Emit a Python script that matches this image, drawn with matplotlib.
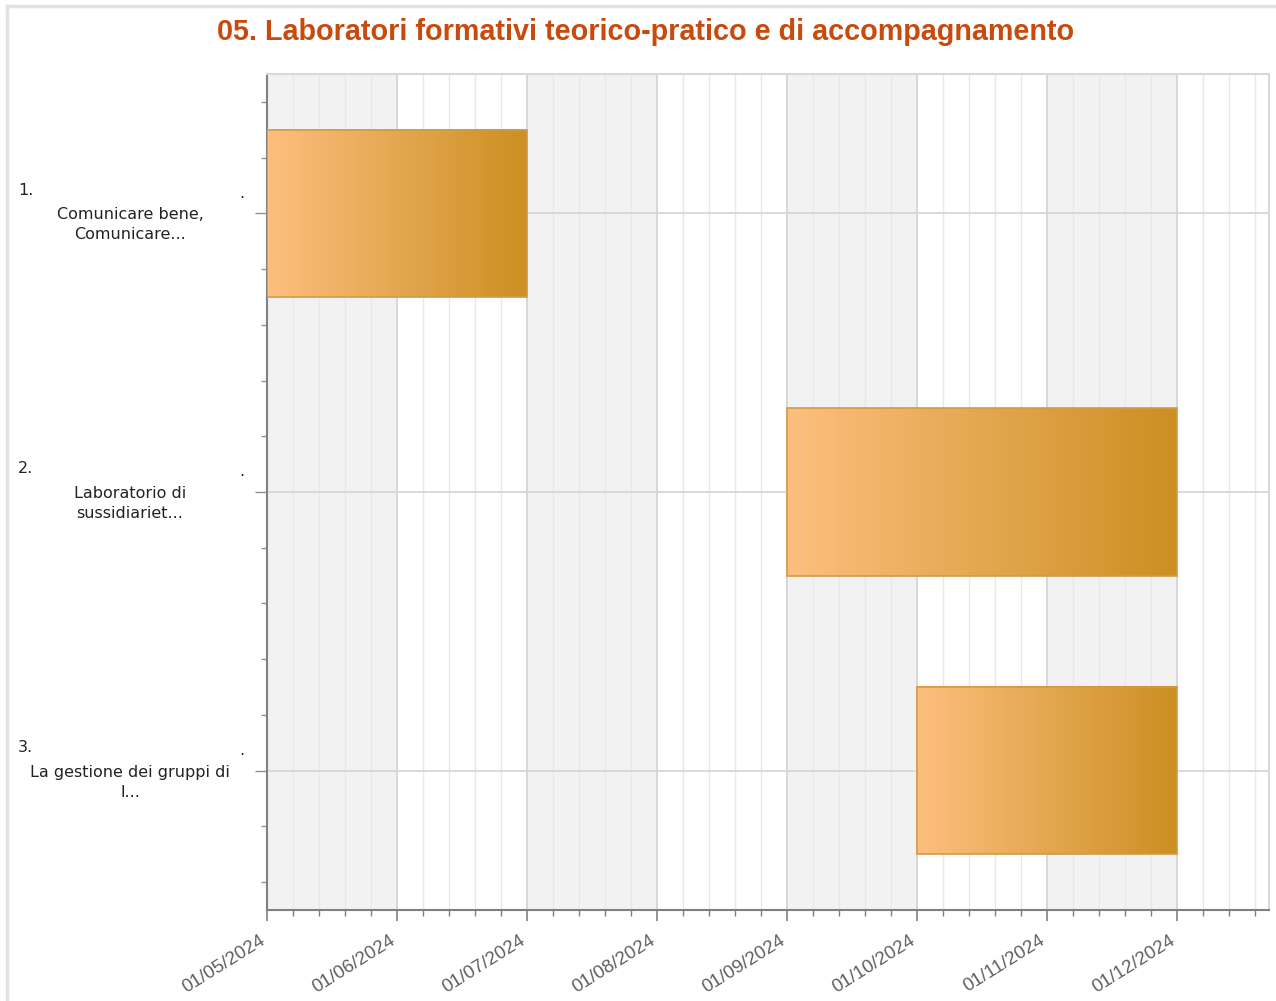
import matplotlib
matplotlib.use("Agg")
import matplotlib.pyplot as plt
import matplotlib.transforms as mtransforms
from matplotlib.patches import Rectangle
import numpy as np
import datetime as dt
import calendar

# ---------------- data ----------------
title = "05. Laboratori formativi teorico-pratico e di accompagnamento"
task_numbers = ["1.", "2.", "3."]
task_labels = ["Comunicare bene,\nComunicare...",
               "Laboratorio di\nsussidiariet...",
               "La gestione dei gruppi di\nl..."]
task_starts = ["2024-05-01", "2024-09-01", "2024-10-01"]
task_ends = ["2024-07-01", "2024-12-01", "2024-12-01"]
month_ticks = ["2024-05-01", "2024-06-01", "2024-07-01", "2024-08-01",
               "2024-09-01", "2024-10-01", "2024-11-01", "2024-12-01"]
x_min = "2024-05-01"
x_max = "2024-12-23"

# ---------------- figure ----------------
W, H = 1276, 1001
fig = plt.figure(figsize=(W / 100, H / 100), dpi=100)
fig.patch.set_facecolor("white")

ax_l, ax_r, ax_t, ax_b = 267, 1269, 74, 910
ax = fig.add_axes([ax_l / W, 1 - ax_b / H, (ax_r - ax_l) / W, (ax_b - ax_t) / H])

base = dt.datetime.strptime(x_min, "%Y-%m-%d")

def m(s):
    """date string -> month-based axis position (each month equal width)"""
    t = dt.datetime.strptime(s, "%Y-%m-%d")
    idx = (t.year - base.year) * 12 + (t.month - base.month)
    ndays = calendar.monthrange(t.year, t.month)[1]
    return idx + (t.day - 1) / ndays

xmin, xmax = m(x_min), m(x_max)
months = [m(s) for s in month_ticks]
month_labels = [dt.datetime.strptime(s, "%Y-%m-%d").strftime("%d/%m/%Y") for s in month_ticks]

# alternating month bands
for i in range(len(months)):
    if i % 2 == 0:
        ax.axvspan(months[i], months[i] + 1, color="#f2f2f2", zorder=0, lw=0)

ax.set_xlim(xmin, xmax)
ax.set_ylim(3.5, 0.5)

ax.set_xticks(months)
ax.set_xticklabels(month_labels)
ax.set_xticks(np.arange(0.2, xmax, 0.2), minor=True)
ax.grid(which="major", axis="x", color="#d2d2d2", lw=1.2, zorder=1)
ax.grid(which="minor", axis="x", color="#e8e8e8", lw=1.0, zorder=1)

cats = np.arange(1, len(task_labels) + 1)
ax.set_yticks(cats)
ax.set_yticks(np.arange(0.6, 3.5, 0.2), minor=True)
ax.set_yticklabels([])
ax.grid(which="major", axis="y", color="#d4d4d4", lw=1.2, zorder=1)
ax.set_axisbelow(True)

ax.tick_params(axis="x", which="major", length=8, width=1.2, color="#808080",
               labelsize=13.5, labelcolor="#606060", pad=2)
ax.tick_params(axis="x", which="minor", length=4, width=1, color="#808080")
ax.tick_params(axis="y", which="major", length=9, width=1, color="#909090")
ax.tick_params(axis="y", which="minor", length=4, width=1, color="#909090")
shift = mtransforms.ScaledTranslation(-8 / 100, -8 / 100, fig.dpi_scale_trans)
for lbl in ax.get_xticklabels():
    lbl.set_rotation(32)
    lbl.set_ha("right")
    lbl.set_va("top")
    lbl.set_rotation_mode("anchor")
    lbl.set_fontfamily("Liberation Sans")
    lbl.set_transform(lbl.get_transform() + shift)

for side in ["left", "bottom"]:
    ax.spines[side].set_color("#808080")
    ax.spines[side].set_linewidth(1.5)
for side in ["top", "right"]:
    ax.spines[side].set_color("#d8d8d8")
    ax.spines[side].set_linewidth(1.5)

# gradient bars
cmap = matplotlib.colors.LinearSegmentedColormap.from_list("bar", ["#fdbf7e", "#cc8f22"])
grad = np.linspace(0, 1, 256).reshape(1, -1)
bar_h = 0.6
for c, s, e in zip(cats, task_starts, task_ends):
    x0, x1 = m(s), m(e)
    y0, y1 = c - bar_h / 2, c + bar_h / 2
    ax.imshow(grad, cmap=cmap, aspect="auto", extent=[x0, x1, y1, y0],
              zorder=3, interpolation="bicubic")
    ax.add_patch(Rectangle((x0, y0), x1 - x0, bar_h, fill=False, ec="#d39a45",
                           lw=1.2, zorder=4))
ax.set_xlim(xmin, xmax)
ax.set_ylim(3.5, 0.5)
ax.set_aspect("auto")

# y labels
tr = mtransforms.blended_transform_factory(fig.transFigure, ax.transData)
line = 23 / (ax_b - ax_t) * 3.0
for c, num, lab in zip(cats, task_numbers, task_labels):
    ax.text(18 / W, c - line, num, transform=tr, ha="left", va="center",
            fontsize=11.5, color="#222222", family="DejaVu Sans")
    ax.text(239 / W, c - line + 0.01, ".", transform=tr, ha="left", va="center",
            fontsize=11.5, color="#222222", family="DejaVu Sans")
    ax.text(130 / W, c + line / 2, lab, transform=tr, ha="center", va="center",
            fontsize=11.5, color="#222222", family="DejaVu Sans", linespacing=1.4)

# title
fig.text(646 / W, 1 - 32 / H, title, ha="center", va="center", fontsize=20.7,
         fontweight="bold", color="#c84a0c", family="Liberation Sans")

# outer border (top and left)
fig.add_artist(plt.Line2D([7 / W, 1], [1 - 6 / H, 1 - 6 / H], transform=fig.transFigure,
                          color="#e2e2e2", lw=2.5))
fig.add_artist(plt.Line2D([7 / W, 7 / W], [0, 1 - 6 / H], transform=fig.transFigure,
                          color="#e2e2e2", lw=2.5))

fig.savefig("out.png", dpi=100, facecolor="white")
